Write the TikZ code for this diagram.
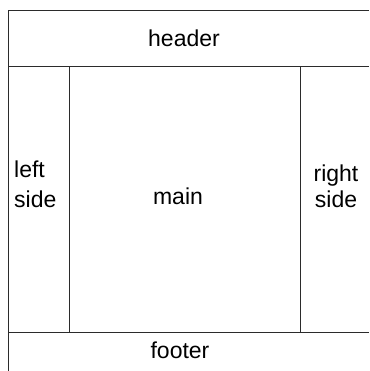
\documentclass[tikz,border=0pt]{standalone}
\usepackage{fontspec}
\setmainfont{Liberation Sans}
\usetikzlibrary{positioning}
\definecolor{frame}{HTML}{2b2b2b}
\tikzset{
  region/.style={frame, line width=1pt},
  regionlabel/.style={inner sep=0pt, font=\fontsize{23}{30}\selectfont}
}

\begin{document}
\begin{tikzpicture}[x=1pt, y=-1pt]
    \useasboundingbox (0,0) rectangle (369,371);

    % outer frame (open to the right and at the bottom)
    \coordinate (topleft) at (8,11);
    \coordinate (topright) at (369,11);
    \coordinate (botleft) at (8,371);
    \draw[region] (topright) -- (topleft) -- (botleft);

    % header and footer bands
    \draw[region] (8,67) -- (369,67);
    \draw[region] (8,332) -- (369,332);

    % side columns
    \draw[region] (69,67) -- (69,332);
    \draw[region] (300,67) -- (300,332);

    \node[regionlabel, anchor=base] (header) at (184,47) {header};
    \node[regionlabel, anchor=base west, align=left] (leftside) at (14,207) {left\\side};
    \node[regionlabel, anchor=base] (main) at (178,204) {main};
    \node[regionlabel, anchor=base, align=center] (rightside) at (336,207) {right\\[-5pt]side};
    \node[regionlabel, anchor=base] (footer) at (180,358) {footer};
  \end{tikzpicture}
\end{document}
